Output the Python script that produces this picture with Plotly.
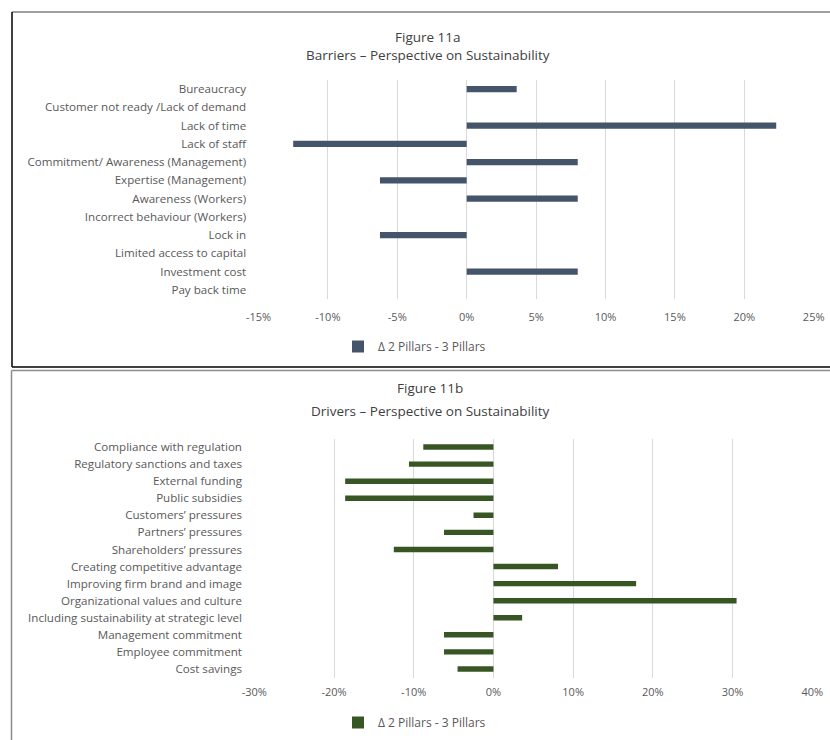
import plotly.graph_objects as go

W, H = 830, 740

# ---- Data ----
barrier_cats = [
    "Bureaucracy",
    "Customer not ready /Lack of demand",
    "Lack of time",
    "Lack of staff",
    "Commitment/ Awareness (Management)",
    "Expertise (Management)",
    "Awareness (Workers)",
    "Incorrect behaviour (Workers)",
    "Lock in",
    "Limited access to capital",
    "Investment cost",
    "Pay back time",
]
barrier_vals = [0.036, 0.0, 0.223, -0.125, 0.08, -0.0625, 0.08, 0.0, -0.0625, 0.0, 0.08, 0.0]
barrier_ticks = [-0.15, -0.10, -0.05, 0.0, 0.05, 0.10, 0.15, 0.20, 0.25]
barrier_ticktext = ["-15%", "-10%", "-5%", "0%", "5%", "10%", "15%", "20%", "25%"]

driver_cats = [
    "Compliance with regulation",
    "Regulatory sanctions and taxes",
    "External funding",
    "Public subsidies",
    "Customers’ pressures",
    "Partners’ pressures",
    "Shareholders’ pressures",
    "Creating competitive advantage",
    "Improving firm brand and image",
    "Organizational values and culture",
    "Including sustainability at strategic level",
    "Management commitment",
    "Employee commitment",
    "Cost savings",
]
driver_vals = [-0.088, -0.106, -0.186, -0.186, -0.025, -0.062, -0.125, 0.081,
               0.179, 0.305, 0.036, -0.062, -0.062, -0.045]
driver_ticks = [-0.3, -0.2, -0.1, 0.0, 0.1, 0.2, 0.3, 0.4]
driver_ticktext = ["-30%", "-20%", "-10%", "0%", "10%", "20%", "30%", "40%"]

series_name = "Δ 2 Pillars - 3 Pillars"
title_a = ["Figure 11a", "Barriers – Perspective on Sustainability"]
title_b = ["Figure 11b", "Drivers – Perspective on Sustainability"]

# ---- Styles ----
FONT = "Open Sans"
TXT = "#595959"
GRID = "#D9D9D9"
C_A = "#44546A"
C_B = "#375623"

def px(x):
    return x / W

def py(y):
    return 1 - y / H

fig = go.Figure()
fig.add_trace(go.Bar(
    y=barrier_cats, x=barrier_vals, orientation="h", name=series_name,
    marker=dict(color=C_A, line=dict(width=0)), width=0.34,
    xaxis="x", yaxis="y", legend="legend", showlegend=True,
))
fig.add_trace(go.Bar(
    y=driver_cats, x=driver_vals, orientation="h", name=series_name,
    marker=dict(color=C_B, line=dict(width=0)), width=0.32,
    xaxis="x2", yaxis="y2", legend="legend2", showlegend=True,
))

def xcommon(standoff):
    return dict(
        showgrid=True, gridcolor=GRID, gridwidth=1, zeroline=False,
        showline=False, ticks="outside", ticklen=0, ticklabelstandoff=standoff,
        automargin=False,
        tickfont=dict(family=FONT, size=11, color=TXT), fixedrange=True,
    )

ycommon = dict(
    showgrid=False, zeroline=False, showline=False, type="category",
    ticks="outside", ticklen=0, ticklabelstandoff=9, automargin=False,
    tickfont=dict(family=FONT, size=11.6, color=TXT), fixedrange=True,
)

fig.update_layout(
    width=W, height=H,
    margin=dict(l=0, r=0, t=0, b=0, autoexpand=False),
    paper_bgcolor="white", plot_bgcolor="white",
    xaxis=dict(domain=[px(258.5), px(813.7)], range=[-0.15, 0.25],
               tickvals=barrier_ticks, ticktext=barrier_ticktext,
               anchor="y", **xcommon(8)),
    yaxis=dict(domain=[py(299), py(80)], range=[len(barrier_cats) - 0.5, -0.5],
               anchor="x", categoryorder="array", categoryarray=barrier_cats, **ycommon),
    xaxis2=dict(domain=[px(254.3), px(812.3)], range=[-0.3, 0.4],
                tickvals=driver_ticks, ticktext=driver_ticktext,
                anchor="y2", **xcommon(4)),
    yaxis2=dict(domain=[py(677.5), py(438.5)], range=[len(driver_cats) - 0.5, -0.5],
                anchor="x2", categoryorder="array", categoryarray=driver_cats, **ycommon),
    legend=dict(orientation="h", x=px(338), y=py(332), xanchor="left", yanchor="top",
                font=dict(family=FONT, size=12, color=TXT), bgcolor="rgba(0,0,0,0)",
                itemwidth=30),
    legend2=dict(orientation="h", x=px(338), y=py(708), xanchor="left", yanchor="top",
                 font=dict(family=FONT, size=12, color=TXT), bgcolor="rgba(0,0,0,0)",
                 itemwidth=30),
)

ann = []
for txt, yy, cx in [(title_a[0], 37, 428), (title_a[1], 55, 428),
                    (title_b[0], 388, 430), (title_b[1], 411, 430)]:
    ann.append(dict(text=txt, x=px(cx), y=py(yy), xref="paper", yref="paper",
                    xanchor="center", yanchor="middle", showarrow=False,
                    font=dict(family=FONT, size=13.5, color="#404040")))
fig.update_layout(annotations=ann)

shapes = [
    # top box
    dict(type="line", xref="paper", yref="paper", x0=px(12), x1=px(830), y0=py(12), y1=py(12),
         line=dict(color="#7F7F7F", width=1.5)),
    dict(type="line", xref="paper", yref="paper", x0=px(12), x1=px(12), y0=py(12), y1=py(367),
         line=dict(color="black", width=1.5)),
    dict(type="line", xref="paper", yref="paper", x0=px(12), x1=px(830), y0=py(367), y1=py(367),
         line=dict(color="black", width=1.5)),
    # bottom box
    dict(type="line", xref="paper", yref="paper", x0=px(11.5), x1=px(830), y0=py(370.5), y1=py(370.5),
         line=dict(color="#8C8C8C", width=1.5)),
    dict(type="line", xref="paper", yref="paper", x0=px(11.5), x1=px(11.5), y0=py(370.5), y1=py(740),
         line=dict(color="#8C8C8C", width=1.5)),
]
fig.update_layout(shapes=shapes)

fig.write_html("out.html")
